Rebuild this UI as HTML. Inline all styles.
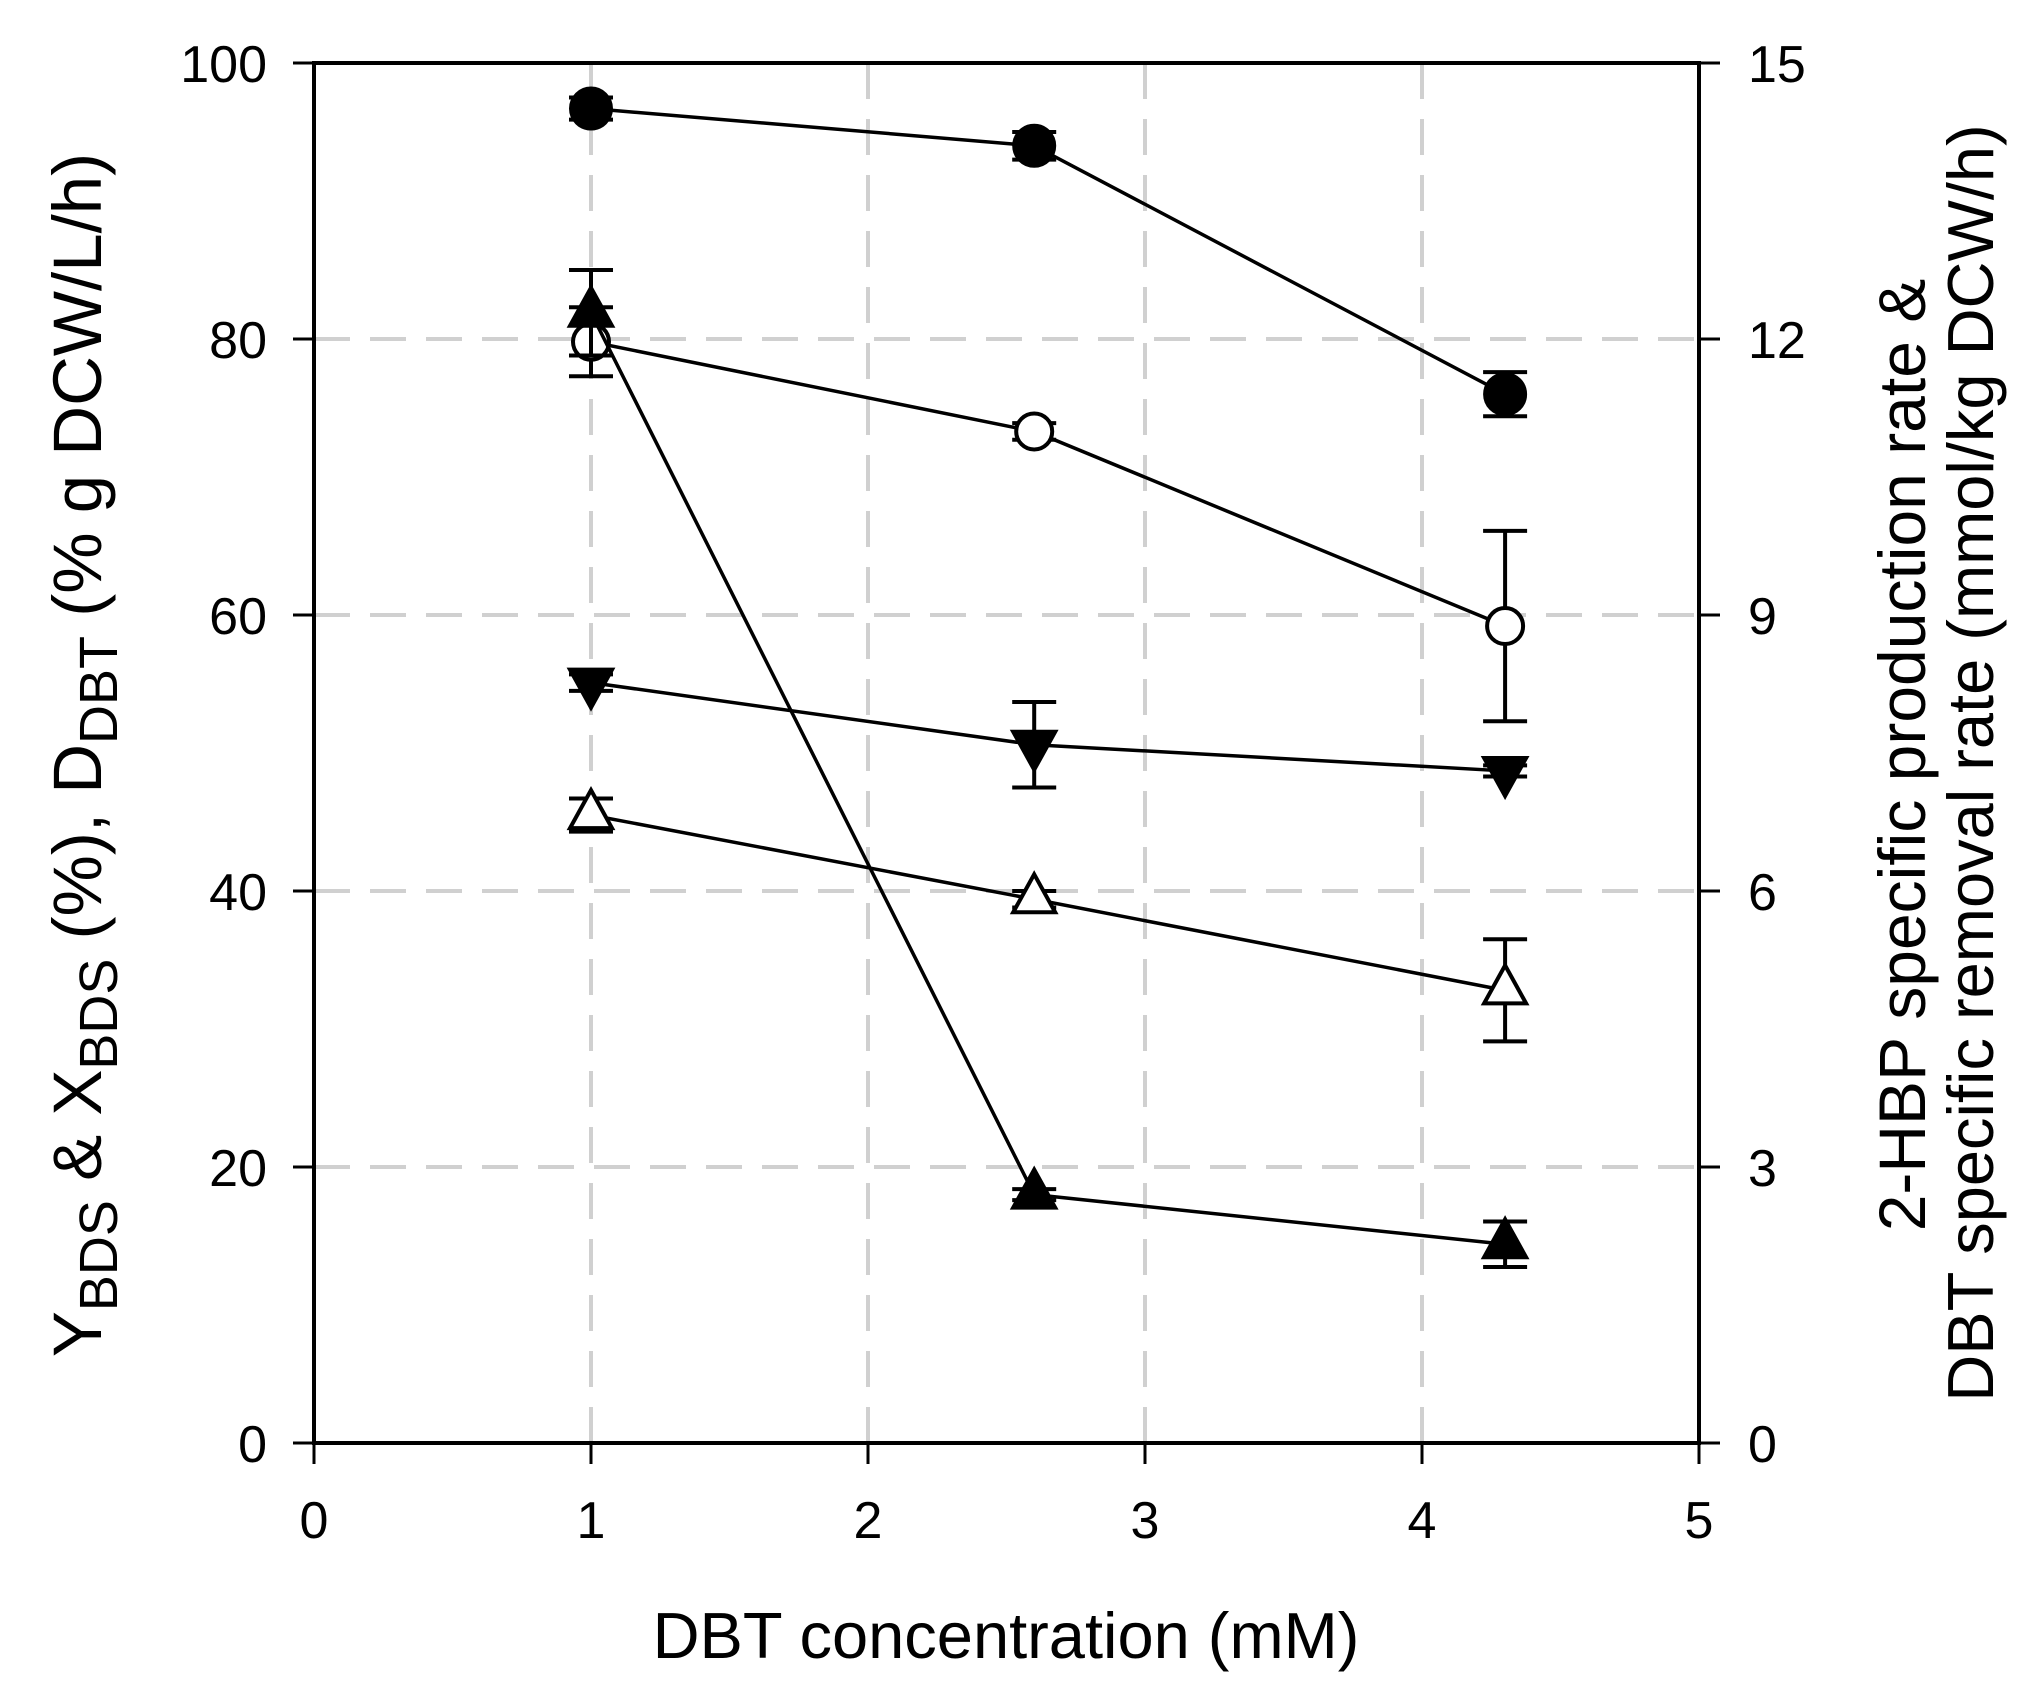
<!DOCTYPE html>
<html><head><meta charset="utf-8"><style>
html,body{margin:0;padding:0;background:#fff;}
svg{display:block;font-family:"Liberation Sans",Arial,sans-serif;}
</style></head><body>
<svg id="chart" width="2030" height="1702" viewBox="0 0 2030 1702" xmlns="http://www.w3.org/2000/svg">
<g id="grid"></g>
<g id="axes"></g>
<g id="series"></g>
<text x="1006" y="1658" font-size="65" text-anchor="middle">DBT concentration (mM)</text>
<text transform="translate(101,755) rotate(-90)" font-size="69" text-anchor="middle">Y<tspan font-size="54" dy="16">BDS</tspan><tspan dy="-16"> &amp; X</tspan><tspan font-size="54" dy="16">BDS</tspan><tspan dy="-16"> (%), D</tspan><tspan font-size="54" dy="16">DBT</tspan><tspan dy="-16"> (% g DCW/L/h)</tspan></text>
<text transform="translate(1925,755) rotate(-90)" font-size="66" text-anchor="middle">2-HBP specific production rate &amp;</text>
<text transform="translate(1993,763) rotate(-90)" font-size="65" text-anchor="middle">DBT specific removal rate (mmol/kg DCW/h)</text>
</svg>
<script>
const xTicks = [0,1,2,3,4,5];
const yTicks = [0,20,40,60,80,100];
const yRightTicks = ["0","3","6","9","12","15"];
const xCats = [1, 2.6, 4.3];
const filledCircle = [96.7, 94.0, 76.0];
const filledCircleErr = [0.8, 1.0, 1.6];
const openCircle = [79.8, 73.3, 59.2];
const openCircleErr = [2.5, 0.6, 6.9];
const filledDown = [55.1, 50.6, 48.7];
const filledDownErr = [0.6, 3.1, 0.4];
const openUp = [45.5, 39.4, 32.8];
const openUpErr = [1.2, 0.6, 3.7];
const filledUp = [81.9, 18.0, 14.4];
const filledUpErr = [3.1, 0.4, 1.65];

const NS='http://www.w3.org/2000/svg';
const X0=314, X1=1699, Y0=1443, Y1=63;
function sx(v){return X0+(X1-X0)*v/5;}
function sy(v){return Y0-(Y0-Y1)*v/100;}
function mk(tag,attrs,parent){const e=document.createElementNS(NS,tag);for(const k in attrs)e.setAttribute(k,attrs[k]);parent.appendChild(e);return e;}
const grid=document.getElementById('grid'),axes=document.getElementById('axes'),ser=document.getElementById('series');

xTicks.slice(1,5).forEach(t=>{const l=mk('line',{x1:sx(t),x2:sx(t),y1:Y1,y2:Y0,stroke:'#d0d0d0','stroke-width':4,'stroke-dasharray':'36,20'},grid);

});
yTicks.slice(1,5).forEach(t=>{const l=mk('line',{x1:X0,x2:X1,y1:sy(t),y2:sy(t),stroke:'#d0d0d0','stroke-width':4,'stroke-dasharray':'36,20'},grid);

});

const frame=mk('rect',{x:X0,y:Y1,width:X1-X0,height:Y0-Y1,fill:'none',stroke:'#000','stroke-width':4},axes);



xTicks.forEach(t=>{const tk=mk('line',{x1:sx(t),x2:sx(t),y1:Y0,y2:Y0+21,stroke:'#000','stroke-width':3},axes);


const tx=mk('text',{x:sx(t),y:1538,'font-size':52,'text-anchor':'middle'},axes);tx.textContent=t;

});
yTicks.forEach((t,i)=>{const tk=mk('line',{x1:X0-21,x2:X0,y1:sy(t),y2:sy(t),stroke:'#000','stroke-width':3},axes);


const tx=mk('text',{x:267,y:sy(t)+19,'font-size':52,'text-anchor':'end'},axes);tx.textContent=t;


const tr=mk('line',{x1:X1,x2:X1+21,y1:sy(t),y2:sy(t),stroke:'#000','stroke-width':3},axes);


const rx=mk('text',{x:1748,y:sy(t)+19,'font-size':52,'text-anchor':'start'},axes);rx.textContent=yRightTicks[i];

});

function drawSeries(name,vals,errs,shape,fill){
  const g=mk('g',{},ser);
  
  
  const pts=xCats.map((x,i)=>sx(x)+','+sy(vals[i])).join(' ');
  const pl=mk('polyline',{points:pts,fill:'none',stroke:'#000','stroke-width':3.5},g);
  
  
  xCats.forEach((x,i)=>{
    const cx=sx(x),hi=sy(vals[i]+errs[i]),lo=sy(vals[i]-errs[i]);
    const eb=mk('path',{d:`M${cx},${hi}V${lo}M${cx-22},${hi}H${cx+22}M${cx-22},${lo}H${cx+22}`,stroke:'#000','stroke-width':4,fill:'none'},g);
    
    
  });
  xCats.forEach((x,i)=>{
    const cx=sx(x),cy=sy(vals[i]);let m;
    if(shape==='circle') m=mk('circle',{cx:cx,cy:cy,r:fill==='#000'?20:18},g);
    else if(shape==='up') m=mk('polygon',{points:`${cx},${cy-25} ${cx+21},${cy+13} ${cx-21},${cy+13}`},g);
    else m=mk('polygon',{points:`${cx},${cy+25} ${cx+21},${cy-13} ${cx-21},${cy-13}`},g);
    m.setAttribute('fill',fill);m.setAttribute('stroke','#000');m.setAttribute('stroke-width',4);
    
    
  });
}
drawSeries('filled-circle-series',filledCircle,filledCircleErr,'circle','#000');
drawSeries('open-circle-series',openCircle,openCircleErr,'circle','#fff');
drawSeries('filled-down-triangle-series',filledDown,filledDownErr,'down','#000');
drawSeries('open-up-triangle-series',openUp,openUpErr,'up','#fff');
drawSeries('filled-up-triangle-series',filledUp,filledUpErr,'up','#000');
</script>
</body></html>
